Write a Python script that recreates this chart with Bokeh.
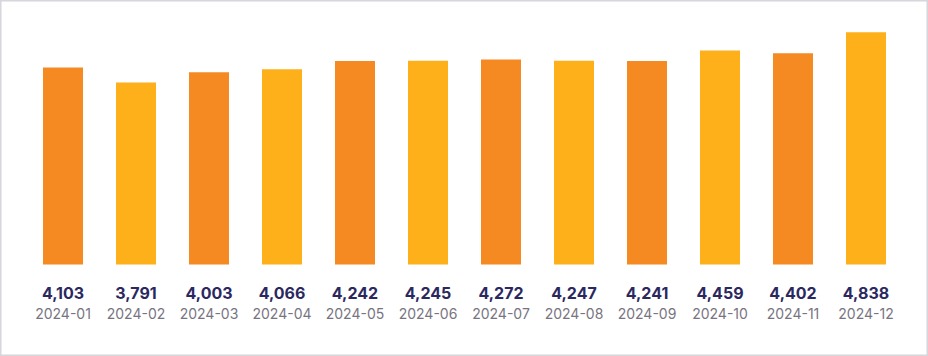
import numpy as np
from bokeh.plotting import figure
from bokeh.models import ColumnDataSource, Range1d
from bokeh.core.properties import value
from bokeh.embed import file_html
from bokeh.resources import INLINE

months = ["2024-01", "2024-02", "2024-03", "2024-04", "2024-05", "2024-06",
          "2024-07", "2024-08", "2024-09", "2024-10", "2024-11", "2024-12"]
counts = [4103, 3791, 4003, 4066, 4242, 4245, 4272, 4247, 4241, 4459, 4402, 4838]
palette = ["#F58A23", "#FDB019"]

n = len(months)
idx = np.arange(n)
src = ColumnDataSource(dict(
    x=idx,
    top=counts,
    month=months,
    label=[f"{c:,}" for c in counts],
    color=[palette[i % 2] for i in range(n)],
))

W, H = 928, 356
pad = 26 / 73
k = 0.048
p = figure(width=W, height=H, output_backend="svg", toolbar_location=None,
           x_range=Range1d(-0.5 - pad, n - 0.5 + pad),
           y_range=Range1d(-92 / k, 264 / k),
           min_border=0)
p.axis.visible = False
p.grid.visible = False
p.background_fill_color = "white"
p.border_fill_color = "white"
p.outline_line_color = "#D6D6DC"
p.outline_line_width = 2

p.vbar(x="x", top="top", bottom=0, width=40 / 73, fill_color="color",
       line_color=None, source=src)

p.text(x="x", y=0, text="label", source=src, y_offset=28,
       text_align="center", text_baseline="alphabetic",
       text_font=value("Inter"), text_font_style="bold",
       text_font_size="16px", text_color="#2B2860")
p.text(x="x", y=0, text="month", source=src, y_offset=49,
       text_align="center", text_baseline="alphabetic",
       text_font=value("Inter"), text_font_size="14px",
       text_color="#78747F")

open("out.html", "w").write(file_html(p, INLINE))
